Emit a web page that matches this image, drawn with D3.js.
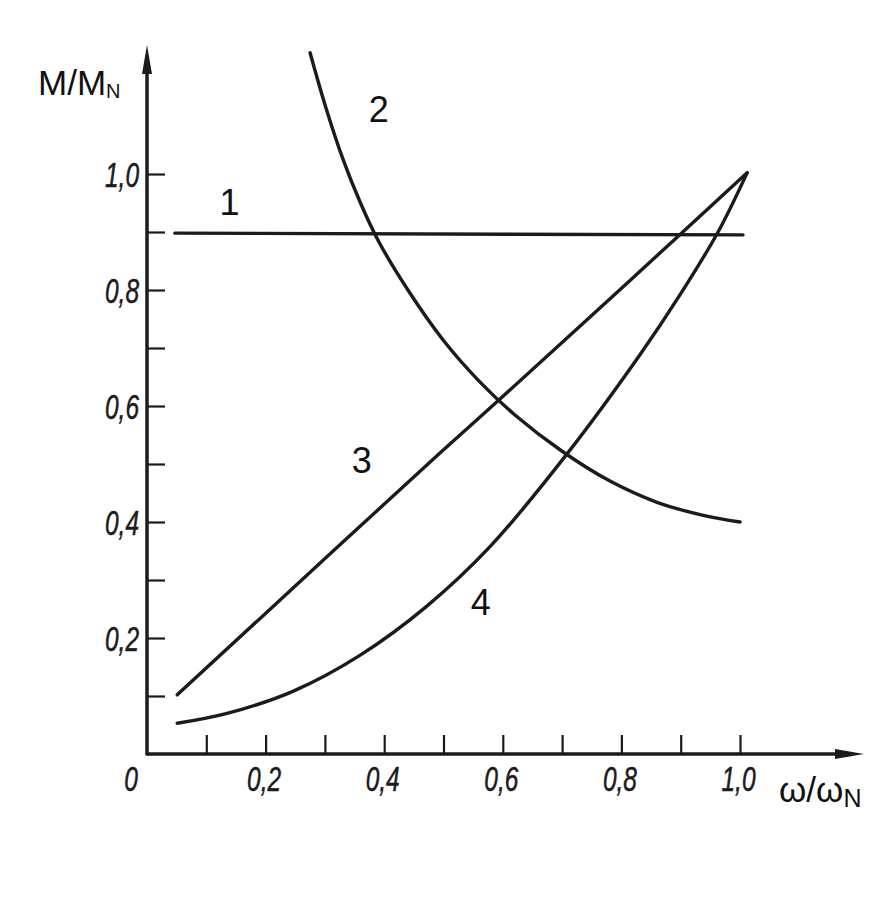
<!DOCTYPE html>
<html>
<head>
<meta charset="utf-8">
<script src="https://cdn.jsdelivr.net/npm/d3@7"></script>
<style>
  html, body { margin: 0; padding: 0; background: #fff; }
  svg { display: block; }
</style>
</head>
<body>
<svg id="chart" width="892" height="898"></svg>
<script>
// ---- data ----
const xTicks = [0.1, 0.2, 0.3, 0.4, 0.5, 0.6, 0.7, 0.8, 0.9, 1.0];
const yTicks = [0.1, 0.2, 0.3, 0.4, 0.5, 0.6, 0.7, 0.8, 0.9, 1.0];
const labeledTicks = [0.2, 0.4, 0.6, 0.8, 1.0];
const tickLabels = ["0,2", "0,4", "0,6", "0,8", "1,0"];
const originLabel = "0";
const yAxisTitle = ["M/M", "N"];
const xAxisTitle = ["ω/ω", "N"];

// curve 1: constant torque
const c1x = [0.047, 1.005];
const c1y = [0.898, 0.895];
// curve 2: hyperbolic (constant power)
const c2x = [0.275, 0.300, 0.330, 0.360, 0.390, 0.440, 0.500, 0.560, 0.620, 0.700, 0.780, 0.860, 0.940, 1.0];
const c2y = [1.209, 1.120, 1.027, 0.950, 0.885, 0.800, 0.713, 0.643, 0.585, 0.522, 0.471, 0.434, 0.411, 0.400];
// curve 3: linear
const c3x = [0.051, 0.297, 0.494, 0.592, 0.815, 1.012];
const c3y = [0.102, 0.334, 0.519, 0.609, 0.817, 1.002];
// curve 4: quadratic
const c4x = [0.051, 0.135, 0.246, 0.359, 0.472, 0.578, 0.708, 0.831, 0.899, 0.963, 1.012];
const c4y = [0.053, 0.070, 0.108, 0.170, 0.255, 0.357, 0.517, 0.688, 0.792, 0.900, 1.002];

const curveNames = ["1", "2", "3", "4"];
// label anchor positions in data units
const curveLabelX = [0.139, 0.391, 0.362, 0.563];
const curveLabelY = [0.93, 1.09, 0.485, 0.24];

// ---- drawing ----
const svg = d3.select("#chart");
const ink = "#1b1b1b";

const x = d3.scaleLinear().domain([0, 1]).range([147, 740]);
const y = d3.scaleLinear().domain([0, 1]).range([754, 174]);

const g = svg.append("g");

// axes lines
g.append("line").attr("x1", x(0)).attr("x2", 840).attr("y1", y(0)).attr("y2", y(0))
  .attr("stroke", ink).attr("stroke-width", 3.5);
g.append("line").attr("x1", x(0)).attr("x2", x(0)).attr("y1", y(0) + 1.5).attr("y2", 70)
  .attr("stroke", ink).attr("stroke-width", 3.5);
// arrowheads
g.append("path").attr("d", `M${x(0)},45 L${x(0) + 5},74 L${x(0) - 5},74 Z`).attr("fill", ink);
g.append("path").attr("d", `M864,${y(0)} L835,${y(0) - 5} L835,${y(0) + 5} Z`).attr("fill", ink);

// ticks via d3 axes (inside ticks, no domain)
const fmt = v => {
  const i = labeledTicks.findIndex(t => Math.abs(t - v) < 1e-9);
  return i >= 0 ? tickLabels[i] : "";
};
const yAx = g.append("g").attr("transform", `translate(${x(0)},0)`)
  .call(d3.axisLeft(y).tickValues(yTicks).tickSize(-18).tickPadding(8).tickFormat(fmt));
const xAx = g.append("g").attr("transform", `translate(0,${y(0)})`)
  .call(d3.axisBottom(x).tickValues(xTicks).tickSize(-19).tickPadding(8).tickFormat(fmt));
[yAx, xAx].forEach(a => {
  a.select(".domain").remove();
  a.selectAll(".tick line").attr("stroke", ink).attr("stroke-width", 2.2);
});
const sx = 0.7;
const fs = 35;
function styleLabel(sel) {
  sel.attr("font-family", "Liberation Sans, Arial, sans-serif")
    .attr("font-style", "italic").attr("font-size", fs).attr("fill", ink)
    .attr("stroke", ink).attr("stroke-width", 0.5);
}
yAx.selectAll(".tick text").call(styleLabel)
  .attr("text-anchor", "end").attr("dy", "0.36em")
  .attr("x", null)
  .attr("transform", `translate(-8,0) scale(${sx},1)`);
xAx.selectAll(".tick text").call(styleLabel)
  .attr("text-anchor", "middle").attr("dy", null).attr("y", null)
  .attr("transform", `translate(-2,37) scale(${sx},1)`);

// origin label
g.append("text").text(originLabel).call(styleLabel)
  .attr("text-anchor", "middle")
  .attr("transform", `translate(${x(0) - 16},${y(0) + 37}) scale(${sx},1)`);

// axis titles
const yt = g.append("text").attr("x", 38).attr("y", 95)
  .attr("font-family", "Liberation Sans, Arial, sans-serif").attr("fill", "#111");
yt.append("tspan").text(yAxisTitle[0]).attr("font-size", 35);
yt.append("tspan").text(yAxisTitle[1]).attr("font-size", 20).attr("dy", 3);

const xt = g.append("text").attr("x", 779).attr("y", 802)
  .attr("font-family", "Liberation Sans, Arial, sans-serif").attr("fill", "#111");
xt.append("tspan").text(xAxisTitle[0]).attr("font-size", 35);
xt.append("tspan").text(xAxisTitle[1]).attr("font-size", 25).attr("dy", 5);

// curves
const series = [[c1x, c1y], [c2x, c2y], [c3x, c3y], [c4x, c4y]];
const line = d3.line().x(d => x(d[0])).y(d => y(d[1])).curve(d3.curveCatmullRom.alpha(0.5));
series.forEach(([xs, ys]) => {
  const pts = xs.map((v, i) => [v, ys[i]]);
  g.append("path").attr("d", line(pts))
    .attr("fill", "none").attr("stroke", ink).attr("stroke-width", 3.4)
    .attr("stroke-linecap", "round").attr("stroke-linejoin", "round");
});

// curve number labels
curveNames.forEach((n, i) => {
  g.append("text").text(n)
    .attr("x", x(curveLabelX[i])).attr("y", y(curveLabelY[i]))
    .attr("text-anchor", "middle")
    .attr("font-family", "Liberation Sans, Arial, sans-serif")
    .attr("font-size", 36).attr("fill", "#111");
});
</script>
</body>
</html>
